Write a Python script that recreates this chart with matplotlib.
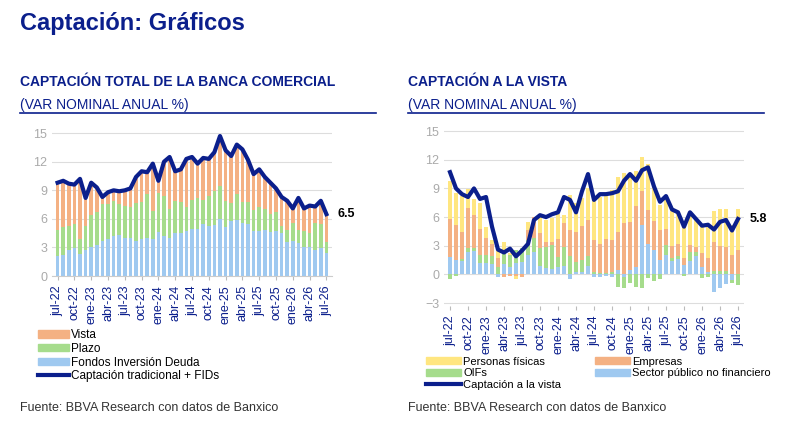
import numpy as np
import matplotlib
matplotlib.use('Agg')
import matplotlib.pyplot as plt
from matplotlib.lines import Line2D
from matplotlib.patches import Patch

plt.rcParams['font.family'] = ['Liberation Sans', 'DejaVu Sans']

# Datos (jul-22 .. jul-26, mensual)
meses = ['jul', 'ago', 'sep', 'oct', 'nov', 'dic', 'ene', 'feb', 'mar', 'abr', 'may', 'jun']
fechas = [f"{meses[(i) % 12]}-{22 + (i + 6) // 12}" for i in range(49)]

# Captación total
total = [9.8, 10.0, 9.7, 9.6, 10.2, 8.2, 9.8, 9.3, 8.3, 8.8, 9.0, 8.9, 9.0, 9.2, 10.4, 11.0, 10.9, 11.8,
         10.0, 12.0, 12.5, 11.0, 11.2, 12.3, 12.5, 11.8, 12.4, 12.3, 13.0, 14.7, 13.2, 12.6, 13.8, 13.3,
         12.2, 10.7, 11.2, 10.4, 9.8, 9.2, 8.3, 7.9, 7.1, 8.2, 7.1, 7.4, 7.3, 7.9, 6.5]
fondos = [2.1, 2.2, 2.7, 2.9, 2.3, 2.7, 3.0, 3.3, 3.7, 3.9, 4.2, 4.3, 4.0, 4.0, 3.7, 3.9, 4.0, 3.9, 4.6,
          4.2, 4.0, 4.5, 4.5, 4.7, 4.9, 4.9, 5.5, 5.3, 5.4, 6.0, 5.2, 5.8, 5.9, 5.6, 5.5, 4.7, 4.7, 4.8,
          4.6, 4.7, 4.5, 3.6, 3.7, 3.5, 3.0, 3.0, 2.7, 2.9, 2.4]
plazo = [2.7, 3.0, 2.6, 2.6, 1.6, 2.6, 3.4, 3.4, 3.9, 3.7, 3.7, 3.3, 3.4, 3.3, 4.0, 3.9, 4.6, 2.9, 4.1,
         4.2, 3.0, 3.4, 3.3, 2.5, 3.1, 3.3, 2.5, 3.1, 3.5, 3.5, 2.7, 1.9, 2.7, 2.2, 2.3, 2.2, 2.5, 2.2,
         1.9, 2.0, 0.8, 1.2, 1.9, 1.3, 1.7, 1.5, 2.9, 2.6, 1.2]
vista = [5.0, 4.8, 4.4, 4.1, 6.3, 2.9, 3.4, 2.6, 0.7, 1.2, 1.1, 1.3, 1.6, 1.9, 2.7, 3.2, 2.3, 5.0, 1.3,
         3.6, 5.5, 3.1, 3.4, 5.1, 4.5, 3.6, 4.4, 3.9, 4.1, 5.2, 5.3, 4.9, 5.2, 5.5, 4.4, 3.8, 4.0, 3.4,
         3.3, 2.5, 3.0, 3.1, 1.5, 3.4, 2.4, 2.9, 1.7, 2.4, 2.9]

# Captación a la vista
vista_total = [10.7, 9.0, 8.4, 8.1, 9.0, 7.9, 8.1, 5.0, 2.6, 2.3, 2.7, 1.9, 2.5, 3.2, 5.7, 6.2, 6.0, 6.3,
               6.5, 8.1, 7.8, 6.5, 8.7, 10.5, 7.8, 8.4, 8.4, 8.5, 8.7, 9.8, 10.5, 9.8, 10.9, 11.2, 9.2,
               7.6, 8.2, 6.8, 6.5, 5.0, 6.5, 5.8, 5.1, 5.2, 4.7, 5.5, 5.7, 4.6, 5.8]
sector_publico = [1.8, 1.5, 1.4, 2.3, 2.5, 1.2, 1.2, 1.1, -0.3, 1.1, 0.8, 1.2, 1.3, 2.0, 2.3, 0.9, 0.7,
                  0.6, 0.8, 0.9, -0.5, 0.3, 0.3, 0.9, -0.3, -0.3, -0.2, -0.3, 0.5, -0.3, 0.5, 0.8, 5.2,
                  3.2, 2.6, 1.5, 2.0, 1.4, 1.6, 1.0, 1.4, 1.9, 0.8, 0.3, -1.8, -1.4, -1.0, -0.6, 0.1]
oifs = [-0.5, -0.2, 0.2, 0.5, 0.3, 0.8, 0.8, 0.8, 0.8, 1.0, 1.2, 1.4, 1.5, 1.6, 1.5, 1.9, 2.2, 2.5, 1.0,
        2.0, 1.9, 1.0, 1.2, 1.0, 0.3, 0.2, 0.2, 0.3, -1.3, -1.1, -0.9, -1.3, -1.4, -0.4, -0.7, -0.5,
        1.1, 0.3, 0.3, -0.2, 0.9, 0.4, -0.4, -0.3, 0.4, 0.4, 0.4, -0.3, -1.1]
empresas = [4.0, 3.7, 2.8, 4.2, 3.4, 2.8, 1.8, 1.3, 0.9, -0.3, -0.2, -0.2, -0.3, 1.0, 2.2, 1.5, 0.5, 0.3,
            1.9, 2.5, 2.8, 3.1, 3.6, 3.8, 3.3, 3.0, 3.5, 3.3, 3.9, 5.4, 5.0, 6.4, 3.5, 3.5, 3.0, 3.1,
            1.7, 1.3, 1.3, 0.7, 0.8, 0.6, 1.4, 1.4, 3.0, 2.6, 2.5, 2.0, 2.5]
personas = [4.0, 3.3, 3.8, 1.9, 1.7, 2.7, 1.2, 0.4, 0.8, 1.3, 0.2, -0.3, 0.0, 0.9, 0.0, 1.7, 2.3, 2.5,
            2.6, 0.8, 3.6, 3.1, 2.9, 3.3, 4.4, 4.9, 4.5, 5.2, 5.8, 5.2, 5.0, 3.6, 3.6, 4.9, 3.7, 2.7,
            3.2, 3.6, 3.4, 3.5, 3.1, 3.0, 3.1, 3.3, 3.2, 3.8, 3.9, 3.2, 4.2]

navy = '#0B1F8C'
c_vista, c_plazo, c_fondos, c_pers = '#F4B183', '#A6DC8C', '#9FC9F0', '#FFE680'

fig = plt.figure(figsize=(8, 4.28), dpi=100)
fig.text(0.025, 0.93, 'Captación: Gráficos', fontsize=17, fontweight='bold', color=navy)

def cabecera(x, t1):
    fig.text(x, 0.80, t1, fontsize=10, fontweight='bold', color=navy)
    fig.text(x, 0.745, '(VAR NOMINAL ANUAL %)', fontsize=10, color=navy)
    fig.add_artist(Line2D([x, x + 0.445], [0.735, 0.735], color=navy, lw=1.2))

cabecera(0.025, 'CAPTACIÓN TOTAL DE LA BANCA COMERCIAL')
cabecera(0.51, 'CAPTACIÓN A LA VISTA')

x = np.arange(len(fechas))
ticks = x[::3]

def estilo(ax, ylim, yt):
    ax.set_ylim(*ylim)
    ax.set_yticks(yt)
    ax.set_xlim(-1, len(x))
    ax.set_xticks(ticks)
    ax.set_xticklabels([fechas[i] for i in ticks], rotation=90, color=navy, fontsize=9)
    ax.tick_params(axis='y', colors='#AAAAAA', labelsize=9, length=0)
    ax.tick_params(axis='x', length=3, color='#BBBBBB')
    ax.grid(axis='y', color='#DDDDDD', lw=0.8)
    ax.set_axisbelow(True)
    for s in ['top', 'right', 'left']:
        ax.spines[s].set_visible(False)
    ax.spines['bottom'].set_color('#CCCCCC')

# Izquierda
ax1 = fig.add_axes([0.065, 0.355, 0.35, 0.345])
ax1.bar(x, fondos, 0.65, color=c_fondos)
ax1.bar(x, plazo, 0.65, bottom=fondos, color=c_plazo)
ax1.bar(x, vista, 0.65, bottom=np.array(fondos) + np.array(plazo), color=c_vista)
ax1.plot(x, total, color=navy, lw=3)
ax1.text(x[-1] + 2, total[-1], f'{total[-1]}', fontsize=9, fontweight='bold', va='center')
estilo(ax1, (0, 15.5), [0, 3, 6, 9, 12, 15])

# Derecha
ax2 = fig.add_axes([0.555, 0.285, 0.375, 0.42])
series = [(sector_publico, c_fondos), (oifs, c_plazo), (empresas, c_vista), (personas, c_pers)]
pos = np.zeros(len(x))
neg = np.zeros(len(x))
for vals, col in series:
    v = np.array(vals)
    b = np.where(v >= 0, pos, neg)
    ax2.bar(x, v, 0.65, bottom=b, color=col)
    pos += np.where(v >= 0, v, 0)
    neg += np.where(v < 0, v, 0)
ax2.plot(x, vista_total, color=navy, lw=3)
ax2.text(x[-1] + 2, vista_total[-1], f'{vista_total[-1]}', fontsize=9, fontweight='bold', va='center')
estilo(ax2, (-3.3, 15.5), [-3, 0, 3, 6, 9, 12, 15])
ax2.spines['bottom'].set_visible(False)

# Leyendas
h1 = [Patch(color=c_vista), Patch(color=c_plazo), Patch(color=c_fondos), Line2D([], [], color=navy, lw=3)]
fig.legend(h1, ['Vista', 'Plazo', 'Fondos Inversión Deuda', 'Captación tradicional + FIDs'],
           loc='upper left', bbox_to_anchor=(0.04, 0.245), frameon=False, fontsize=8.5,
           handlelength=2.6, handleheight=0.6, labelspacing=0.15, borderpad=0, handletextpad=0.2)
h2 = [Patch(color=c_pers), Patch(color=c_vista), Patch(color=c_plazo), Patch(color=c_fondos),
      Line2D([], [], color=navy, lw=3)]
ax2_labels = ['Personas físicas', 'Empresas', 'OIFs', 'Sector público no financiero', 'Captación a la vista']
fig.legend([h2[0], h2[2], h2[4], h2[1], h2[3]],
           [ax2_labels[0], ax2_labels[2], ax2_labels[4], ax2_labels[1], ax2_labels[3]],
           ncol=2, loc='upper left', bbox_to_anchor=(0.525, 0.18), frameon=False, fontsize=8,
           handlelength=3.2, handleheight=0.6, labelspacing=0.15, borderpad=0, handletextpad=0.2,
           columnspacing=3)

fig.text(0.025, 0.04, 'Fuente: BBVA Research con datos de Banxico', fontsize=9, color='#333333')
fig.text(0.51, 0.04, 'Fuente: BBVA Research con datos de Banxico', fontsize=9, color='#333333')

fig.savefig('out.png', dpi=100, facecolor='white')
